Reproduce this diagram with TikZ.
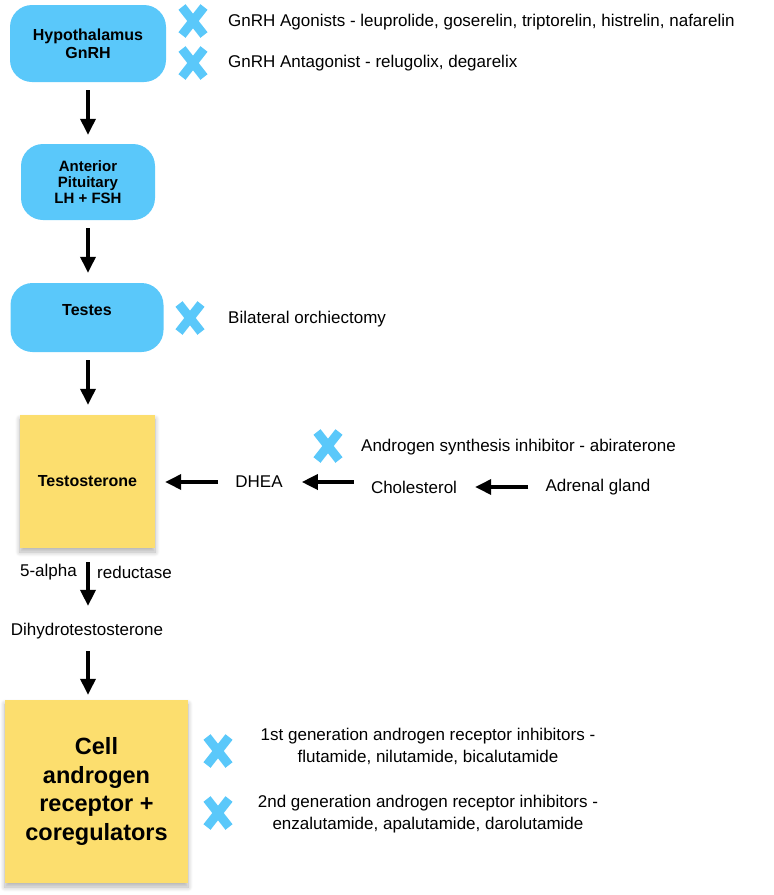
\documentclass[tikz,border=0pt]{standalone}
\usepackage{fontspec}
\setmainfont{Liberation Sans}
\usetikzlibrary{arrows.meta,shadows.blur}
\definecolor{skyblue}{HTML}{5AC8FA}
\definecolor{sticky}{HTML}{FCDE6E}

\begin{document}
\begin{tikzpicture}[x=1pt,y=-1pt,
    organ/.style={fill=skyblue,rounded corners=22pt,align=center,inner sep=0pt,
      font=\bfseries\fontsize{16}{18}\selectfont},
    note/.style={fill=sticky,align=center,inner sep=0pt,
      blur shadow={shadow xshift=0pt,shadow yshift=-4pt,shadow blur radius=5pt,
        shadow blur steps=8,shadow opacity=30}},
    txt/.style={inner sep=0pt,align=center,font=\fontsize{17}{22}\selectfont},
    flow/.style={-{Triangle[length=16pt,width=15pt]},line width=3.5pt},
    veto/.pic={\draw[skyblue,line width=9pt] (-11,-14) -- (11,14) (11,-14) -- (-11,14);}]
    \useasboundingbox (0,0) rectangle (774,895);

    % main chain
    \node[organ,minimum width=156pt,minimum height=77pt] (hypo) at (88,43.5) {Hypothalamus\\GnRH};
    \node[organ,minimum width=134pt,minimum height=76pt,
      font=\bfseries\fontsize{15}{16}\selectfont] (pit) at (88,182) {Anterior\\Pituitary\\LH + FSH};
    \node[organ,minimum width=153pt,minimum height=69pt] (testes) at (87,317.5) {\raisebox{16pt}{Testes}};
    \node[note,minimum width=135pt,minimum height=133pt,
      font=\bfseries\fontsize{16}{18}\selectfont] (testo) at (87.5,481.5) {Testosterone};
    \node[txt,anchor=east] (alpha) at (77,572) {5-alpha};
    \node[txt,anchor=west] (reduct) at (97,572) {reductase};
    \node[txt] (dht) at (87,631) {Dihydrotestosterone};
    \node[note,minimum width=183pt,minimum height=183pt,
      font=\bfseries\fontsize{23.5}{28.5}\selectfont] (cell) at (96.5,791.5)
      {Cell\\androgen\\receptor +\\coregulators};

    % adrenal side
    \node[txt] (dhea) at (259,482) {DHEA};
    \node[txt] (chol) at (414,487) {Cholesterol};
    \node[txt] (adrenal) at (598,487) {Adrenal gland};

    % blockers
    \pic at (193,21) {veto};
    \node[txt,anchor=west] (agon) at (228,22) {GnRH Agonists - leuprolide, goserelin, triptorelin, histrelin, nafarelin};
    \pic at (193,63) {veto};
    \node[txt,anchor=west] (antag) at (228,63) {GnRH Antagonist - relugolix, degarelix};
    \pic at (190,318) {veto};
    \node[txt,anchor=west] (orch) at (228,319) {Bilateral orchiectomy};
    \pic at (328,446) {veto};
    \node[txt,anchor=west] (abi) at (361,447) {Androgen synthesis inhibitor - abiraterone};
    \pic at (218,751) {veto};
    \node[txt] (first) at (428,746.5) {1st generation androgen receptor inhibitors -\\flutamide, nilutamide, bicalutamide};
    \pic at (218,813) {veto};
    \node[txt] (second) at (428,814.5) {2nd generation androgen receptor inhibitors -\\enzalutamide, apalutamide, darolutamide};

    % arrows
    \draw[flow,shorten <=8pt,shorten >=9pt] (hypo) -- (pit);
    \draw[flow,shorten <=8pt,shorten >=10pt] (pit) -- (pit |- testes.north);
    \draw[flow,shorten <=8pt,shorten >=10pt] (pit |- testes.south) -- (pit |- testo.north);
    \draw[flow,shorten <=14pt,shorten >=17pt] (pit |- testo.south) -- (pit |- dht.north);
    \draw[flow,shorten <=12pt,shorten >=5pt] (pit |- dht.south) -- (pit |- cell.north);
    \draw[flow,shorten <=17pt,shorten >=10pt] (dhea.west) -- (testo.east |- dhea);
    \draw[flow,shorten <=17pt,shorten >=19pt] (chol.west |- dhea) -- (dhea.east);
    \draw[flow,shorten <=17pt,shorten >=18pt] (adrenal.west) -- (chol.east);
\end{tikzpicture}
\end{document}
